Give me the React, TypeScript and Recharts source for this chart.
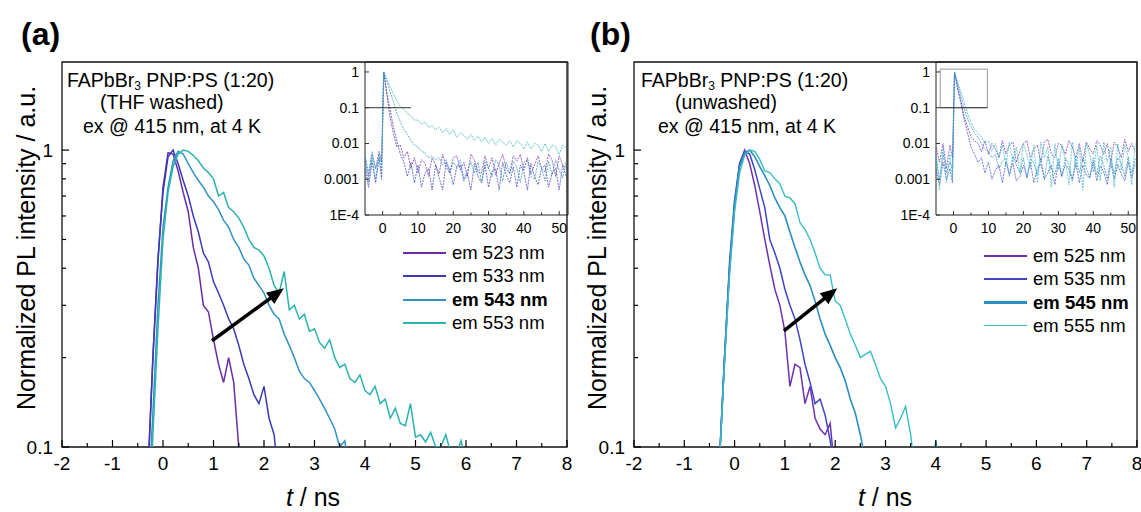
import React from 'react';
import { LineChart, Line, XAxis, YAxis, ReferenceArea, ReferenceLine } from 'recharts';

const FONT = 'Arial, "Liberation Sans", Helvetica, sans-serif';

// time grid of the main decay plots (ns)
const gridT = [
  -0.4, -0.3, -0.2, -0.1, 0, 0.1, 0.2, 0.3, 0.4, 0.5,
  0.6, 0.7, 0.8, 0.9, 1.0, 1.1, 1.2, 1.3, 1.4, 1.5,
  1.6, 1.7, 1.8, 1.9, 2.0, 2.1, 2.2, 2.3, 2.4, 2.5,
  2.6, 2.7, 2.8, 2.9, 3.0, 3.1, 3.2, 3.3, 3.4, 3.5,
  3.6, 3.7, 3.8, 3.9, 4.0, 4.1, 4.2, 4.3, 4.4, 4.5,
  4.6, 4.7, 4.8, 4.9, 5.0, 5.1, 5.2, 5.3, 5.4, 5.5,
  5.6, 5.7, 5.8, 5.9, 6.0,
];

// (a) THF washed
const a523 = [null, 0.08, 0.2, 0.42, 0.75, 0.98, 0.97, 0.85, 0.72, 0.62, 0.47, 0.4, 0.3, 0.285, 0.23, 0.19, 0.165, 0.2, 0.165, 0.1, 0.06];
const a533 = [null, 0.08, 0.2, 0.43, 0.72, 0.95, 1.0, 0.9, 0.79, 0.7, 0.6, 0.53, 0.45, 0.42, 0.36, 0.33, 0.3, 0.27, 0.25, 0.22, 0.19, 0.17, 0.15, 0.14, 0.16, 0.125, 0.11, 0.075];
const a543 = [null, 0.06, 0.13, 0.3, 0.55, 0.75, 0.92, 0.99, 0.97, 0.9, 0.84, 0.79, 0.75, 0.7, 0.67, 0.63, 0.58, 0.55, 0.5, 0.47, 0.43, 0.41, 0.37, 0.35, 0.33, 0.3, 0.28, 0.27, 0.24, 0.22, 0.2, 0.18, 0.17, 0.165, 0.155, 0.145, 0.135, 0.125, 0.115, 0.1, 0.105, 0.08];
const a553 = [null, 0.045, 0.11, 0.25, 0.5, 0.72, 0.88, 0.97, 1.0, 0.99, 0.96, 0.92, 0.87, 0.84, 0.8, 0.7, 0.72, 0.64, 0.62, 0.59, 0.55, 0.5, 0.47, 0.46, 0.44, 0.4, 0.35, 0.33, 0.39, 0.29, 0.3, 0.27, 0.28, 0.245, 0.25, 0.225, 0.215, 0.23, 0.2, 0.185, 0.19, 0.17, 0.165, 0.175, 0.155, 0.15, 0.16, 0.14, 0.145, 0.125, 0.135, 0.12, 0.118, 0.14, 0.108, 0.11, 0.104, 0.112, 0.1, 0.1, 0.11, 0.095, 0.093, 0.105, 0.09];

// (b) unwashed
const b525 = [null, 0.09, 0.2, 0.4, 0.65, 0.9, 1.0, 0.9, 0.76, 0.62, 0.5, 0.41, 0.34, 0.3, 0.245, 0.16, 0.19, 0.185, 0.14, 0.16, 0.125, 0.115, 0.11, 0.12, 0.08];
const b535 = [null, 0.09, 0.2, 0.42, 0.68, 0.9, 0.99, 0.97, 0.86, 0.74, 0.64, 0.5, 0.45, 0.4, 0.34, 0.3, 0.27, 0.23, 0.19, 0.165, 0.14, 0.145, 0.128, 0.105, 0.08];
const b545 = [null, 0.09, 0.2, 0.4, 0.66, 0.88, 0.98, 1.0, 0.95, 0.88, 0.82, 0.76, 0.69, 0.64, 0.6, 0.53, 0.47, 0.42, 0.38, 0.35, 0.31, 0.27, 0.24, 0.22, 0.2, 0.185, 0.167, 0.145, 0.13, 0.11, 0.09];
const b555 = [null, 0.09, 0.19, 0.38, 0.62, 0.84, 0.96, 1.0, 0.99, 0.93, 0.85, 0.84, 0.8, 0.77, 0.7, 0.69, 0.66, 0.57, 0.54, 0.5, 0.45, 0.4, 0.38, 0.38, 0.31, 0.3, 0.27, 0.24, 0.22, 0.2, 0.205, 0.21, 0.19, 0.17, 0.16, 0.14, 0.116, 0.125, 0.137, 0.11, 0.08, 0.07, 0.075, 0.08, 0.105, 0.08];

// inset time grid (ns)
const insetT = [
  -5, -4, -3, -2, -1, -0.3, 0.3,
  1, 2, 3, 4, 5, 6, 7, 8, 9, 10,
  11, 12, 13, 14, 15, 16, 17, 18, 19, 20,
  21, 22, 23, 24, 25, 26, 27, 28, 29, 30,
  31, 32, 33, 34, 35, 36, 37, 38, 39, 40,
  41, 42, 43, 44, 45, 46, 47, 48, 49, 50,
  51, 52,
];

const ia523 = [
  0.004, 0.0012, 0.005, 0.002, 0.006, 0.003, 1,
  0.35, 0.06, 0.02, 0.008, 0.009, 0.004, 0.006, 0.002, 0.004, 0.0015,
  0.0035, 0.0028, 0.0012, 0.004, 0.0025, 0.0014, 0.005, 0.0022, 0.0015, 0.004,
  0.0045, 0.0018, 0.003, 0.0012, 0.005, 0.0035, 0.0016, 0.0015, 0.0045, 0.002,
  0.004, 0.0013, 0.0028, 0.005, 0.002, 0.0015, 0.0045, 0.0032, 0.005, 0.0018,
  0.004, 0.0014, 0.0025, 0.0045, 0.002, 0.0016, 0.005, 0.0034, 0.0012, 0.0045,
  0.0025, 0.002,
];
const ia533 = [
  0.002, 0.0006, 0.003, 0.0008, 0.004, 0.001, 1,
  0.3, 0.1, 0.03, 0.012, 0.005, 0.003, 0.0012, 0.003, 0.0008, 0.0025,
  0.0006, 0.0015, 0.002, 0.0005, 0.0025, 0.0011, 0.0005, 0.003, 0.0018, 0.0007,
  0.0022, 0.0025, 0.0009, 0.0014, 0.0005, 0.0028, 0.0012, 0.0008, 0.0025, 0.0006,
  0.0017, 0.002, 0.0005, 0.003, 0.0013, 0.0008, 0.0022, 0.0006, 0.0025, 0.0016,
  0.0005, 0.0028, 0.0012, 0.0007, 0.002, 0.0025, 0.0006, 0.0015, 0.002, 0.0005,
  0.0025, 0.0012,
];
const ia543 = [
  0.003, 0.0008, 0.004, 0.001, 0.005, 0.0015, 1,
  0.6, 0.3, 0.15, 0.07, 0.04, 0.025, 0.018, 0.012, 0.009, 0.008,
  0.006, 0.0055, 0.004, 0.0045, 0.0035, 0.004, 0.0025, 0.0035, 0.0015, 0.003,
  0.0022, 0.0035, 0.001, 0.0018, 0.003, 0.0015, 0.003, 0.0008, 0.0032, 0.002,
  0.0012, 0.0035, 0.0025, 0.0009, 0.003, 0.0014, 0.0032, 0.0022, 0.0008, 0.003,
  0.0035, 0.0012, 0.001, 0.003, 0.0022, 0.0009, 0.0032, 0.0013, 0.0035, 0.0018,
  0.0011, 0.0032,
];
const ia553 = [
  0.005, 0.0015, 0.006, 0.002, 0.004, 0.003, 1,
  0.7, 0.4, 0.25, 0.16, 0.11, 0.09, 0.07, 0.06, 0.045, 0.045,
  0.035, 0.04, 0.028, 0.032, 0.024, 0.028, 0.02, 0.026, 0.018, 0.024,
  0.015, 0.02, 0.017, 0.013, 0.018, 0.012, 0.016, 0.011, 0.015, 0.01,
  0.014, 0.009, 0.013, 0.011, 0.009, 0.012, 0.008, 0.012, 0.01, 0.007,
  0.011, 0.007, 0.01, 0.009, 0.006, 0.01, 0.006, 0.009, 0.008, 0.005,
  0.009, 0.007,
];

const ib525 = [
  0.008, 0.003, 0.01, 0.002, 0.009, 0.004, 1,
  0.45, 0.18, 0.06, 0.03, 0.015, 0.012, 0.01, 0.006, 0.012, 0.005,
  0.01, 0.007, 0.004, 0.012, 0.005, 0.009, 0.011, 0.003, 0.006, 0.01,
  0.012, 0.004, 0.007, 0.009, 0.003, 0.011, 0.013, 0.005, 0.004, 0.01,
  0.009, 0.005, 0.012, 0.008, 0.004, 0.01, 0.003, 0.011, 0.007, 0.005,
  0.012, 0.009, 0.005, 0.01, 0.003, 0.011, 0.008, 0.004, 0.013, 0.006,
  0.01, 0.006,
];
const ib535 = [
  0.002, 0.0007, 0.003, 0.001, 0.002, 0.0008, 1,
  0.4, 0.15, 0.05, 0.02, 0.008, 0.005, 0.003, 0.004, 0.0015, 0.003,
  0.001, 0.0018, 0.0025, 0.0008, 0.003, 0.0014, 0.0028, 0.0009, 0.0012, 0.0025,
  0.0011, 0.003, 0.0008, 0.002, 0.0027, 0.001, 0.0015, 0.0024, 0.0007, 0.003,
  0.0012, 0.0026, 0.0019, 0.0009, 0.0028, 0.0008, 0.0025, 0.0013, 0.0011, 0.003,
  0.0009, 0.0024, 0.0016, 0.0007, 0.0028, 0.001, 0.0026, 0.0014, 0.0009, 0.003,
  0.0011, 0.0028,
];
const ib545 = [
  0.004, 0.001, 0.005, 0.0015, 0.003, 0.002, 1,
  0.55, 0.25, 0.1, 0.05, 0.03, 0.02, 0.015, 0.01, 0.007, 0.006,
  0.004, 0.005, 0.002, 0.0032, 0.004, 0.0012, 0.0045, 0.0025, 0.0015, 0.004,
  0.0011, 0.0038, 0.0028, 0.0013, 0.004, 0.001, 0.0045, 0.002, 0.0014, 0.0038,
  0.0012, 0.004, 0.0026, 0.001, 0.0042, 0.0015, 0.0038, 0.0021, 0.0011, 0.004,
  0.0013, 0.0045, 0.0024, 0.001, 0.0038, 0.0014, 0.004, 0.0028, 0.0012, 0.0042,
  0.0015, 0.0038,
];
const ib555 = [
  0.006, 0.0005, 0.008, 0.0008, 0.005, 0.001, 1,
  0.6, 0.3, 0.15, 0.07, 0.04, 0.025, 0.02, 0.015, 0.01, 0.012,
  0.006, 0.01, 0.004, 0.009, 0.0025, 0.011, 0.003, 0.008, 0.0015, 0.01,
  0.005, 0.002, 0.009, 0.0008, 0.011, 0.004, 0.008, 0.0006, 0.01, 0.0018,
  0.009, 0.0035, 0.0007, 0.011, 0.002, 0.008, 0.0005, 0.01, 0.005, 0.0016,
  0.009, 0.0009, 0.011, 0.003, 0.008, 0.0006, 0.01, 0.0018, 0.009, 0.004,
  0.0007, 0.01,
];

// arrows (tail, head) in data units
const arrowA = [{ t: 0.97, v: 0.228 }, { t: 2.33, v: 0.336 }];
const arrowB = [{ t: 0.98, v: 0.246 }, { t: 1.98, v: 0.336 }];

const xTicksMain = [-2, -1.5, -1, -0.5, 0, 0.5, 1, 1.5, 2, 2.5, 3, 3.5, 4, 4.5, 5, 5.5, 6, 6.5, 7, 7.5, 8];
const yTicksMain = [0.1, 0.2, 0.3, 0.4, 0.5, 0.6, 0.7, 0.8, 0.9, 1];
const xTicksInset = [0, 5, 10, 15, 20, 25, 30, 35, 40, 45, 50];
const yTicksInset = [0.0001, 0.001, 0.01, 0.1, 1];

type Pt = { t: number; v: number };
const zip = (ts: number[], vs: (number | null)[]): Pt[] =>
  vs.map((v, i) => (v == null ? null : { t: ts[i], v })).filter(Boolean) as Pt[];

const seriesA = [
  { name: 'em 523 nm', color: '#6c2ca8', w: 1.5, lw: 2, main: zip(gridT, a523), inset: zip(insetT, ia523) },
  { name: 'em 533 nm', color: '#3b3bb8', w: 1.5, lw: 2, main: zip(gridT, a533), inset: zip(insetT, ia533) },
  { name: 'em 543 nm', color: '#2f93c4', w: 1.5, lw: 2, main: zip(gridT, a543), inset: zip(insetT, ia543), bold: true },
  { name: 'em 553 nm', color: '#2bb3ae', w: 1.5, lw: 2, main: zip(gridT, a553), inset: zip(insetT, ia553) },
];
const seriesB = [
  { name: 'em 525 nm', color: '#7030b0', w: 1.5, lw: 2, main: zip(gridT, b525), inset: zip(insetT, ib525) },
  { name: 'em 535 nm', color: '#3f46c6', w: 1.5, lw: 2, main: zip(gridT, b535), inset: zip(insetT, ib535) },
  { name: 'em 545 nm', color: '#2a8ec0', w: 1.6, lw: 3, main: zip(gridT, b545), inset: zip(insetT, ib545), bold: true },
  { name: 'em 555 nm', color: '#38bcc4', w: 1.4, lw: 1, main: zip(gridT, b555), inset: zip(insetT, ib555) },
];

function XTickMain(props: any) {
  const { x, y, payload } = props;
  const major = Number.isInteger(payload.value);
  return (
    <g>
      <line x1={x} x2={x} y1={y} y2={y - (major ? 7 : 4)} stroke="#000" strokeWidth={1.2} />
      {major && (
        <text x={x} y={y + 23} textAnchor="middle" fontSize={19} fontFamily={FONT} fill="#000">
          {payload.value}
        </text>
      )}
    </g>
  );
}

function YTickMain(props: any) {
  const { x, y, payload } = props;
  const v = payload.value;
  const major = v === 0.1 || v === 1;
  return (
    <g>
      <line x1={x} x2={x + (major ? 7 : 4)} y1={y} y2={y} stroke="#000" strokeWidth={1.2} />
      {major && (
        <text x={x - 9} y={y + 7} textAnchor="end" fontSize={19} fontFamily={FONT} fill="#000">
          {String(v)}
        </text>
      )}
    </g>
  );
}

function XTickInset(props: any) {
  const { x, y, payload } = props;
  const major = payload.value % 10 === 0;
  return (
    <g>
      <line x1={x} x2={x} y1={y} y2={y - (major ? 4 : 2.5)} stroke="#333" />
      {major && (
        <text x={x} y={y + 18} textAnchor="middle" fontSize={14} fontFamily={FONT} fill="#000">
          {payload.value}
        </text>
      )}
    </g>
  );
}

function YTickInset(props: any) {
  const { x, y, payload } = props;
  const v = payload.value;
  const txt = v === 0.0001 ? '1E-4' : String(v);
  return (
    <g>
      <line x1={x} x2={x + 4} y1={y} y2={y} stroke="#333" />
      <text x={x - 6} y={y + 5} textAnchor="end" fontSize={14} fontFamily={FONT} fill="#000">
        {txt}
      </text>
    </g>
  );
}

function makeArrowHead() {
  let tail = { x: 0, y: 0 };
  return (props: any) => {
    const { cx, cy, index } = props;
    if (index === 0) {
      tail = { x: cx, y: cy };
      return <g key={`ah${index}`} />;
    }
    const pts = props.points;
    if (pts && pts.length > 1) tail = { x: pts[0].x, y: pts[0].y };
    const dx = cx - tail.x;
    const dy = cy - tail.y;
    const len = Math.hypot(dx, dy) || 1;
    const ux = dx / len;
    const uy = dy / len;
    const tx = cx + ux * 4;
    const ty = cy + uy * 4;
    const bx = tx - ux * 17;
    const by = ty - uy * 17;
    const px = -uy * 7;
    const py = ux * 7;
    return (
      <polygon
        key={`ah${index}`}
        points={`${tx},${ty} ${bx + px},${by + py} ${bx - px},${by - py}`}
        fill="#000"
      />
    );
  };
}

function MainPlot({ left, width, right, series, arrow }: any) {
  const head = makeArrowHead();
  return (
    <div style={{ position: 'absolute', left, top: 0 }}>
      <LineChart width={width} height={512} margin={{ top: 62, right, bottom: 0, left: 0 }}>
        <XAxis
          type="number"
          dataKey="t"
          domain={[-2, 8]}
          ticks={xTicksMain}
          interval={0}
          allowDataOverflow
          height={65}
          axisLine={false}
          tickLine={false}
          tickSize={0}
          tickMargin={0}
          tick={(p: any) => <XTickMain {...p} />}
        />
        <YAxis
          type="number"
          scale="log"
          domain={[0.1, 1.98]}
          ticks={yTicksMain}
          interval={0}
          allowDataOverflow
          width={62}
          axisLine={false}
          tickLine={false}
          tickSize={0}
          tickMargin={0}
          tick={(p: any) => <YTickMain {...p} />}
        />
        {series.map((s: any) => (
          <Line
            key={s.name}
            data={s.main}
            dataKey="v"
            type="linear"
            stroke={s.color}
            strokeWidth={s.w}
            dot={false}
            isAnimationActive={false}
          />
        ))}
        <Line data={arrow} dataKey="v" type="linear" stroke="#000" strokeWidth={3.5} dot={head} isAnimationActive={false} />
        <ReferenceArea x1={-2} x2={8} y1={0.1} y2={1.98} fill="none" stroke="#111" strokeWidth={1.3} ifOverflow="visible" />
      </LineChart>
    </div>
  );
}

function InsetPlot({ left, width, series, marker }: any) {
  return (
    <div style={{ position: 'absolute', left, top: 0 }}>
      <LineChart width={width} height={260} margin={{ top: 62, right: 2, bottom: 0, left: 0 }}>
        <XAxis
          type="number"
          dataKey="t"
          domain={[-5, 52.5]}
          ticks={xTicksInset}
          interval={0}
          allowDataOverflow
          height={45}
          axisLine={false}
          tickLine={false}
          tickSize={0}
          tickMargin={0}
          tick={(p: any) => <XTickInset {...p} />}
        />
        <YAxis
          type="number"
          scale="log"
          domain={[0.0001, 1.9]}
          ticks={yTicksInset}
          interval={0}
          allowDataOverflow
          width={65}
          axisLine={false}
          tickLine={false}
          tickSize={0}
          tickMargin={0}
          tick={(p: any) => <YTickInset {...p} />}
        />
        {series.map((s: any) => (
          <Line
            key={s.name}
            data={s.inset}
            dataKey="v"
            type="linear"
            stroke={s.color}
            strokeWidth={0.8}
            strokeOpacity={0.9}
            strokeDasharray="2 1"
            dot={false}
            isAnimationActive={false}
          />
        ))}
        {marker === 'line' && (
          <ReferenceLine segment={[{ x: -5, y: 0.1 }, { x: 8, y: 0.1 }]} stroke="#333" strokeWidth={1} />
        )}
        {marker === 'box' && (
          <ReferenceArea x1={-3.8} x2={9.7} y1={0.1} y2={1.2} fill="none" stroke="#999" strokeWidth={1} />
        )}
        {marker === 'box' && (
          <ReferenceLine segment={[{ x: -3.8, y: 0.1 }, { x: 9.7, y: 0.1 }]} stroke="#333" strokeWidth={1} />
        )}
        <ReferenceArea x1={-5} x2={52.5} y1={0.0001} y2={1.9} fill="none" stroke="#222" strokeWidth={1} ifOverflow="visible" />
      </LineChart>
    </div>
  );
}

const txt = (left: number, top: number, size: number, extra: any = {}) => ({
  position: 'absolute' as const,
  left,
  top,
  fontSize: size,
  lineHeight: `${size}px`,
  whiteSpace: 'nowrap' as const,
  fontFamily: FONT,
  color: '#000',
  ...extra,
});

function Legend({ left, top, series }: any) {
  return (
    <>
      {series.map((s: any, i: number) => (
        <div key={s.name} style={{ position: 'absolute', left, top: top + i * 23.3 - 10, height: 20, display: 'flex', alignItems: 'center', fontFamily: FONT }}>
          <div style={{ width: 43, height: 0, borderTop: `${s.lw}px solid ${s.color}` }} />
          <span style={{ marginLeft: 6, fontSize: 18.5, lineHeight: '20px', fontWeight: s.bold ? 'bold' : 'normal', whiteSpace: 'nowrap' }}>{s.name}</span>
        </div>
      ))}
    </>
  );
}

const Sub3 = () => <span style={{ fontSize: 12, lineHeight: '12px', position: 'relative', top: 3 }}>3</span>;

export default function App() {
  return (
    <div style={{ position: 'absolute', left: 0, top: 0, width: 1141, height: 512, background: '#fff', overflow: 'hidden' }}>
      <MainPlot left={0} width={582} right={15} series={seriesA} arrow={arrowA} />
      <MainPlot left={572} width={569} right={4} series={seriesB} arrow={arrowB} />
      <InsetPlot left={300} width={270} series={seriesA} marker="line" />
      <InsetPlot left={871} width={268} series={seriesB} marker="box" />

      <div style={txt(21, 18, 32, { fontWeight: 'bold' })}>(a)</div>
      <div style={txt(590, 18, 32, { fontWeight: 'bold' })}>(b)</div>

      <div style={txt(67, 71, 19.5)}>FAPbBr<Sub3 /> PNP:PS (1:20)</div>
      <div style={txt(100, 93, 19.5)}>(THF washed)</div>
      <div style={txt(83, 117, 19.5)}>ex @ 415 nm, at 4 K</div>

      <div style={txt(641, 71, 19.5)}>FAPbBr<Sub3 /> PNP:PS (1:20)</div>
      <div style={txt(675, 93, 19.5)}>(unwashed)</div>
      <div style={txt(658, 117, 19.5)}>ex @ 415 nm, at 4 K</div>

      <Legend left={403} top={253} series={seriesA} />
      <Legend left={984} top={256} series={seriesB} />

      {[26, 597].map((cx) => (
        <div
          key={cx}
          style={{
            ...txt(cx, 248, 25),
            transform: 'translate(-50%, -50%) rotate(-90deg)',
          }}
        >
          Normalized PL intensity / a.u.
        </div>
      ))}
      {[313, 885].map((cx) => (
        <div key={cx} style={{ ...txt(cx, 485, 25), transform: 'translateX(-50%)' }}>
          <i>t</i> / ns
        </div>
      ))}
    </div>
  );
}
